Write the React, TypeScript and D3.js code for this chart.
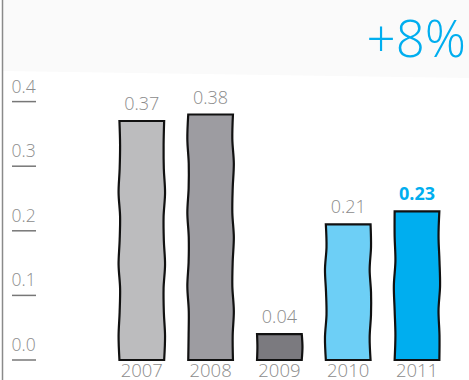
import React from "react";
import * as d3 from "d3";

const years = ["2007", "2008", "2009", "2010", "2011"];
const values = [0.37, 0.38, 0.04, 0.21, 0.23];
const valueLabels = ["0.37", "0.38", "0.04", "0.21", "0.23"];
const barColors = ["#bcbcbe", "#9d9ca1", "#7b7a7f", "#6dcff6", "#00aeef"];
const yTicks = [0, 0.1, 0.2, 0.3, 0.4];
const headline = "+8%";

const W = 469;
const H = 380;
const FONT = "'Open Sans', 'Noto Sans', sans-serif";

function side(x: number, y0: number, y1: number, seed: number): string {
  const n = Math.max(2, Math.round(Math.abs(y1 - y0) / 24));
  const pts: [number, number][] = [];
  for (let i = 0; i <= n; i++) {
    const t = i / n;
    const off = i === 0 || i === n ? 0 : 0.9 * Math.sin(seed + i * 2.1);
    pts.push([x + off, y0 + t * (y1 - y0)]);
  }
  const p = d3.line().curve(d3.curveCatmullRom.alpha(0.5))(pts) as string;
  return p.replace(/^M[^C L]*/, "");
}

function wobblyPath(x: number, y: number, w: number, h: number, seed: number): string {
  const right = side(x + w, y, y + h, seed * 1.7);
  const left = side(x, y + h, y, seed * 2.3);
  return `M${x},${y}L${x + w},${y}${right}L${x},${y + h}${left}Z`;
}

export default function App() {
  const x = d3.scaleBand<string>().domain(years).range([107.4, 451.4]).paddingInner(0.35).paddingOuter(0.175);
  const y = d3.scaleLinear().domain([0, 0.4]).range([360, 101.6]);

  return (
    <svg width={W} height={H} style={{ position: "absolute", left: 0, top: 0, background: "#fff" }}>
      <polygon points={`3,0 ${W},0 ${W},78 3,71`} fill="#fafafa" />
      <line x1={2.5} x2={2.5} y1={0} y2={H} stroke="#8a8a8a" strokeWidth={1.5} />
      <text x={466} y={57} textAnchor="end" fill="#00aeef" fontFamily={FONT} fontWeight={300} fontSize={51}>
        {headline}
      </text>
      {yTicks.map((t) => (
        <g key={t}>
          <text x={11.5} y={y(t) - 9} fill="#8c8c8c" fontFamily={FONT} fontWeight={300} fontSize={17.5}>
            {d3.format(".1f")(t)}
          </text>
          <line x1={12} x2={36} y1={y(t)} y2={y(t)} stroke="#777" strokeWidth={1.5} />
        </g>
      ))}
      {years.map((yr, i) => {
        const bx = x(yr)!;
        const bw = x.bandwidth();
        const top = y(values[i]);
        const h = y(0) - top;
        const last = i === years.length - 1;
        return (
          <g key={yr}>
            <path d={wobblyPath(bx, top, bw, h, i + 1)} fill={barColors[i]} stroke="#111" strokeWidth={2.2} strokeLinejoin="miter" />
            <text
              x={bx + bw / 2}
              y={top - 11}
              textAnchor="middle"
              fill={last ? "#00aeef" : "#8c8c8c"}
              fontFamily={FONT}
              fontWeight={last ? 700 : 300}
              fontSize={18}
            >
              {valueLabels[i]}
            </text>
            <text x={bx + bw / 2} y={376.5} textAnchor="middle" fill="#8c8c8c" fontFamily={FONT} fontWeight={300} fontSize={18.5}>
              {yr}
            </text>
          </g>
        );
      })}
    </svg>
  );
}
